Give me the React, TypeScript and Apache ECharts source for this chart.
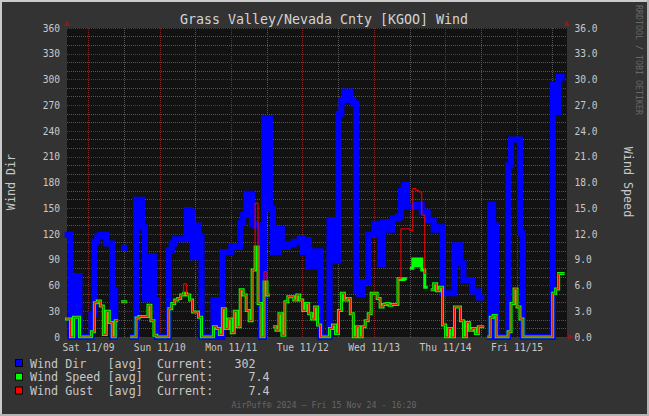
import React, { useEffect, useRef } from "react";
import * as echarts from "echarts";

// ---- data (hours relative to Sat 11/09 00:00, one value per hour, h = -8 .. 159) ----
const START_HOUR = -8;
const TITLE = "Grass Valley/Nevada Cnty [KGOO] Wind";
const FOOTER = "AirPuff\u00ae 2024 \u2013 Fri 15 Nov 24 - 16:20";
const WATERMARK = "RRDTOOL / TOBI OETIKER";

const windDir: (number | null)[] = [
  119, 119, 0, 71, 71, 0, 0, 0, 0, 27, 111, 117,
  119, 119, 109, 109, 0, 54, null, 104, 104, null, 0, 0,
  160, 160, 128, 44, 94, 94, 43, 0, 0, 0, 0, 101,
  109, 114, 114, 114, 114, 148, 146, 93, 130, 117, 0, 0,
  0, 0, 43, 43, 0, 99, 99, 99, 106, 105, 105, 133,
  142, 167, 167, 132, 130, 130, 0, 255, 255, 149, 99, 99,
  126, 105, 105, 108, 108, 111, 111, 115, 99, 113, 82, 82,
  100, 100, 0, 0, 0, 136, 136, 89, 260, 276, 286, 286,
  276, 272, 54, 50, 64, 64, 119, 119, 132, 132, 85, 134,
  134, 125, 138, 138, 140, 170, 177, 152, 152, 152, 154, 154,
  146, 146, 136, 136, 125, 125, 128, 51, 51, 51, 51, 107,
  107, 86, 66, 66, 66, 53, 53, 46, 46, null, 0, 154,
  130, 0, 0, 0, 0, 200, 230, 230, 230, 121, 0, 0,
  0, 0, 0, 0, 0, 0, 0, 0, 294, 262, 303, 302,
];

const windSpeed: (number | null)[] = [
  2.1, 2.1, 0, 2.3, 2.3, 0, 0, 0, 0, 0.6, 4.0, 4.2,
  3.6, 0.3, 3.0, 1.7, 0, 1.9, null, 4.1, 4.1, null, 0, 0,
  2.2, 2.4, 2.4, 2.4, 3.7, 1.9, 0.2, 0, 0, 0, 0, 3.3,
  3.9, 4.3, 4.5, 4.9, 5.1, 4.9, 4.3, 2.9, 2.9, 2.3, 0, 0,
  0, 0, 1.2, 1.0, 0.3, 3.3, 1.0, 2.1, 0.5, 3.0, 1.2, 5.5,
  4.9, 3.1, 1.9, 7.8, 10.5, 3.9, 0, 6.4, 4.9, null, 1.2, 0.8,
  2.7, 0.2, 4.1, 4.7, 4.7, 4.3, 4.9, 4.3, 3.1, 3.9, 2.7, 2.1,
  3.5, 1.4, 0, 0, 0, 1.0, 1.4, 0.4, 3.1, 5.1, 4.3, 4.5,
  2.7, 0, 1.2, 0, 1.2, 1.9, 2.7, 5.1, 5.1, 4.5, 3.5, 3.8,
  3.9, 3.7, 3.8, 3.8, 6.8, 6.7, 6.8, null, 8.0, 9.1, 8.3, 9.1,
  7.8, 5.8, null, 5.5, 6.2, 5.4, 5.8, 1.4, 0, 1.0, 0, 3.5,
  3.5, 1.9, 0, 1.7, 0.8, 1.0, 0.4, 1.2, 1.2, null, 0, 2.3,
  2.5, 0, 0, 0, 0, 0.6, 3.9, 5.6, 3.5, 2.1, 0, 0,
  0, 0, 0, 0, 0, 0, 0, 0, 5.1, 5.6, 7.4, 7.4,
];

const windGust: (number | null)[] = [
  2.1, 2.1, 0, 2.3, 2.3, 0, 0, 0, 0, 0.6, 4.0, 4.2,
  3.6, 0.3, 3.0, 1.7, 0, 1.9, null, 4.1, 4.1, null, 0, 0,
  2.2, 2.4, 2.4, 2.4, 3.7, 1.9, 0.2, 0, 0, 0, 0, 3.3,
  3.9, 4.3, 4.5, 4.9, 6.2, 4.9, 4.3, 2.9, 2.9, 2.3, 0, 0,
  0, 0, 1.2, 1.0, 0.3, 3.3, 1.0, 2.1, 0.5, 3.0, 1.2, 5.5,
  4.9, 3.1, 1.9, 7.8, 15.6, 3.9, 0, 7.6, 4.9, null, 1.2, 0.8,
  2.7, 0.2, 4.1, 4.7, 4.7, 4.3, 4.9, 4.3, 3.1, 3.9, 2.7, 2.1,
  3.5, 1.4, 0, 0, 0, 1.0, 1.4, 0.4, 3.1, 5.1, 4.3, 4.5,
  2.7, 0, 1.2, 0, 1.2, 1.9, 2.7, 5.1, 5.1, 4.5, 3.5, 3.8,
  3.9, 3.7, 3.8, 3.8, 6.8, 12.6, 12.6, 12.6, 12.4, 17.3, 17.1, 16.9,
  14.2, 7.4, null, 5.5, 6.2, 5.4, 5.8, 1.4, 0, 1.0, 0, 3.5,
  3.5, 1.9, 0, 1.7, 0.8, 1.0, 0.4, 1.2, 1.2, null, 0, 2.3,
  2.5, 0, 0, 0, 0, 0.6, 3.9, 5.6, 3.5, 2.1, 0, 0,
  0, 0, 0, 0, 0, 0, 0, 0, 5.1, 5.6, 7.4, 7.4,
];

// grid ticks: midnight (major) and noon (minor), alternating
const gridTicks = [0, 12, 24, 36, 48, 60, 72, 84, 96, 108, 120, 132, 144, 156];
const dayTicks = [0, 24, 48, 72, 96, 120, 144];
const dayLabels = ["Sat 11/09", "Sun 11/10", "Mon 11/11", "Tue 11/12", "Wed 11/13", "Thu 11/14", "Fri 11/15"];

const legendItems = [
  { name: "Wind Dir", color: "#0000ff", values: windDir, digits: 0, col: 29 },
  { name: "Wind Speed", color: "#00ff00", values: windSpeed, digits: 1, col: 31 },
  { name: "Wind Gust", color: "#ff0000", values: windGust, digits: 1, col: 31 },
];

// ---- layout / style ----
const W = 649;
const H = 416;
const GL = 67, GT = 28, GW = 500, GH = 309;
const MONO = "DejaVu Sans Mono";
const TXT = "#c8c8c8";
const MAJOR = "#7a2a2a";
const MINOR = "#555555";
const ARROW = "#8b1c1c";

function stepData(values: (number | null)[]) {
  const out: any[] = [];
  values.forEach((v, i) => {
    const h = START_HOUR + i;
    if (v === null) out.push([h, null]);
    else {
      out.push([h, v]);
      out.push([h + 1, v]);
    }
  });
  return out;
}

function lastValue(values: (number | null)[]) {
  for (let i = values.length - 1; i >= 0; i--) if (values[i] !== null) return values[i] as number;
  return 0;
}

function buildOption() {
  const cw = 7.05; // monospace char width of legend font
  const lx = 30;
  const rowY = [363.5, 377.2, 391];
  const legendGraphics: any[] = [];
  legendItems.forEach((it, r) => {
    legendGraphics.push({
      type: "rect",
      shape: { x: 15.5, y: rowY[r] - 4, width: 7, height: 7 },
      style: { fill: it.color, stroke: "#000", lineWidth: 1 },
    });
    const cols: [string, number][] = [
      [it.name, 0],
      ["[avg]", 11],
      ["Current:", 18],
      [lastValue(it.values).toFixed(it.digits), it.col],
    ];
    cols.forEach(([t, c]) => {
      legendGraphics.push({
        type: "text",
        x: lx + c * cw,
        y: rowY[r],
        style: {
          text: t, fill: TXT, fontFamily: MONO, fontSize: 11.7,
          textAlign: "left", align: "left", textVerticalAlign: "middle", verticalAlign: "middle",
        },
      });
    });
  });

  const lineSeries = (name: string, values: (number | null)[], axis: number, color: string, width: number, z: number) => ({
    name,
    type: "line",
    yAxisIndex: axis,
    data: stepData(values),
    symbol: "none",
    showSymbol: false,
    connectNulls: false,
    silent: true,
    z,
    lineStyle: { color, width, join: "miter", cap: "butt" },
  });

  return {
    animation: false,
    backgroundColor: "#333333",
    grid: { left: GL, top: GT, width: GW, height: GH, show: true, backgroundColor: "#121212", borderWidth: 0 },
    xAxis: {
      type: "value",
      min: -7.2,
      max: 160.8,
      axisLine: { show: false },
      axisTick: { show: false, customValues: gridTicks },
      splitLine: {
        show: true,
        showMinLine: true,
        showMaxLine: true,
        lineStyle: { color: [MAJOR, MINOR], type: [1, 1], width: 1 },
      },
      axisLabel: {
        customValues: dayTicks,
        formatter: (v: number) => {
          const i = dayTicks.indexOf(Math.round(v));
          return i >= 0 ? dayLabels[i] : "";
        },
        color: TXT, fontFamily: MONO, fontSize: 9.6, margin: 5, hideOverlap: false,
      },
    },
    yAxis: [
      {
        type: "value", min: 0, max: 360, interval: 30, position: "left",
        axisLine: { show: false }, axisTick: { show: false },
        axisLabel: { color: TXT, fontFamily: MONO, fontSize: 9.6, margin: 7 },
        splitLine: { show: true, lineStyle: { color: MAJOR, type: [1, 1], width: 1 } },
        minorTick: { show: false, splitNumber: 3 },
        minorSplitLine: { show: true, lineStyle: { color: MINOR, type: [1, 1], width: 1 } },
      },
      {
        type: "value", min: 0, max: 36, interval: 3, position: "right",
        axisLine: { show: false }, axisTick: { show: false },
        axisLabel: { color: TXT, fontFamily: MONO, fontSize: 9.6, margin: 7.5, formatter: (v: number) => v.toFixed(1) },
        splitLine: { show: false },
      },
    ],
    series: [
      lineSeries("Wind Dir", windDir, 0, "#0000ff", 6, 10),
      lineSeries("Wind Speed", windSpeed, 1, "#00ff00", 3, 11),
      lineSeries("Wind Gust", windGust, 1, "#ff0000", 1, 12),
    ],
    graphic: [
      // 3D frame
      { type: "rect", shape: { x: 0, y: 0, width: W, height: 2 }, style: { fill: "#cbcbcb" } },
      { type: "rect", shape: { x: 0, y: 0, width: 2, height: H }, style: { fill: "#cbcbcb" } },
      { type: "rect", shape: { x: 0, y: H - 2, width: W, height: 2 }, style: { fill: "#b4b4b4" } },
      { type: "rect", shape: { x: W - 2, y: 0, width: 2, height: H }, style: { fill: "#b4b4b4" } },
      // arrows
      { type: "polygon", shape: { points: [[GL - 3, GT - 2], [GL + 3, GT - 2], [GL, GT - 8]] }, style: { fill: ARROW } },
      { type: "polygon", shape: { points: [[GL + GW - 3, GT - 2], [GL + GW + 3, GT - 2], [GL + GW, GT - 8]] }, style: { fill: ARROW } },
      { type: "polygon", shape: { points: [[GL + GW + 1, GT + GH - 3], [GL + GW + 1, GT + GH + 3], [GL + GW + 7, GT + GH]] }, style: { fill: ARROW } },
      // title
      {
        type: "text", x: 324, y: 19.5,
        style: { text: TITLE, fill: "#d4d4d4", fontFamily: MONO, fontSize: 13.3, textAlign: "center", align: "center", textVerticalAlign: "middle", verticalAlign: "middle" },
      },
      // axis titles
      {
        type: "text", x: 11, y: 182, rotation: Math.PI / 2,
        style: { text: "Wind Dir", fill: TXT, fontFamily: MONO, fontSize: 11.7, textAlign: "center", align: "center", textVerticalAlign: "middle", verticalAlign: "middle" },
      },
      {
        type: "text", x: 628, y: 182, rotation: -Math.PI / 2,
        style: { text: "Wind Speed", fill: TXT, fontFamily: MONO, fontSize: 11.7, textAlign: "center", align: "center", textVerticalAlign: "middle", verticalAlign: "middle" },
      },
      {
        type: "text", x: 639, y: 60, rotation: -Math.PI / 2,
        style: { text: WATERMARK, fill: "#686868", fontFamily: MONO, fontSize: 8.3, textAlign: "center", align: "center", textVerticalAlign: "middle", verticalAlign: "middle" },
      },
      {
        type: "text", x: 324, y: 405,
        style: { text: FOOTER, fill: "#666666", fontFamily: MONO, fontSize: 8.3, textAlign: "center", align: "center", textVerticalAlign: "middle", verticalAlign: "middle" },
      },
      ...legendGraphics,
    ],
  };
}

export default function App() {
  const ref = useRef<HTMLDivElement>(null);
  useEffect(() => {
    if (!ref.current) return;
    const chart = echarts.init(ref.current, null, { renderer: "svg" });
    chart.setOption(buildOption() as any);
    return () => chart.dispose();
  }, []);
  return <div ref={ref} style={{ position: "fixed", left: 0, top: 0, width: W, height: H }} />;
}
